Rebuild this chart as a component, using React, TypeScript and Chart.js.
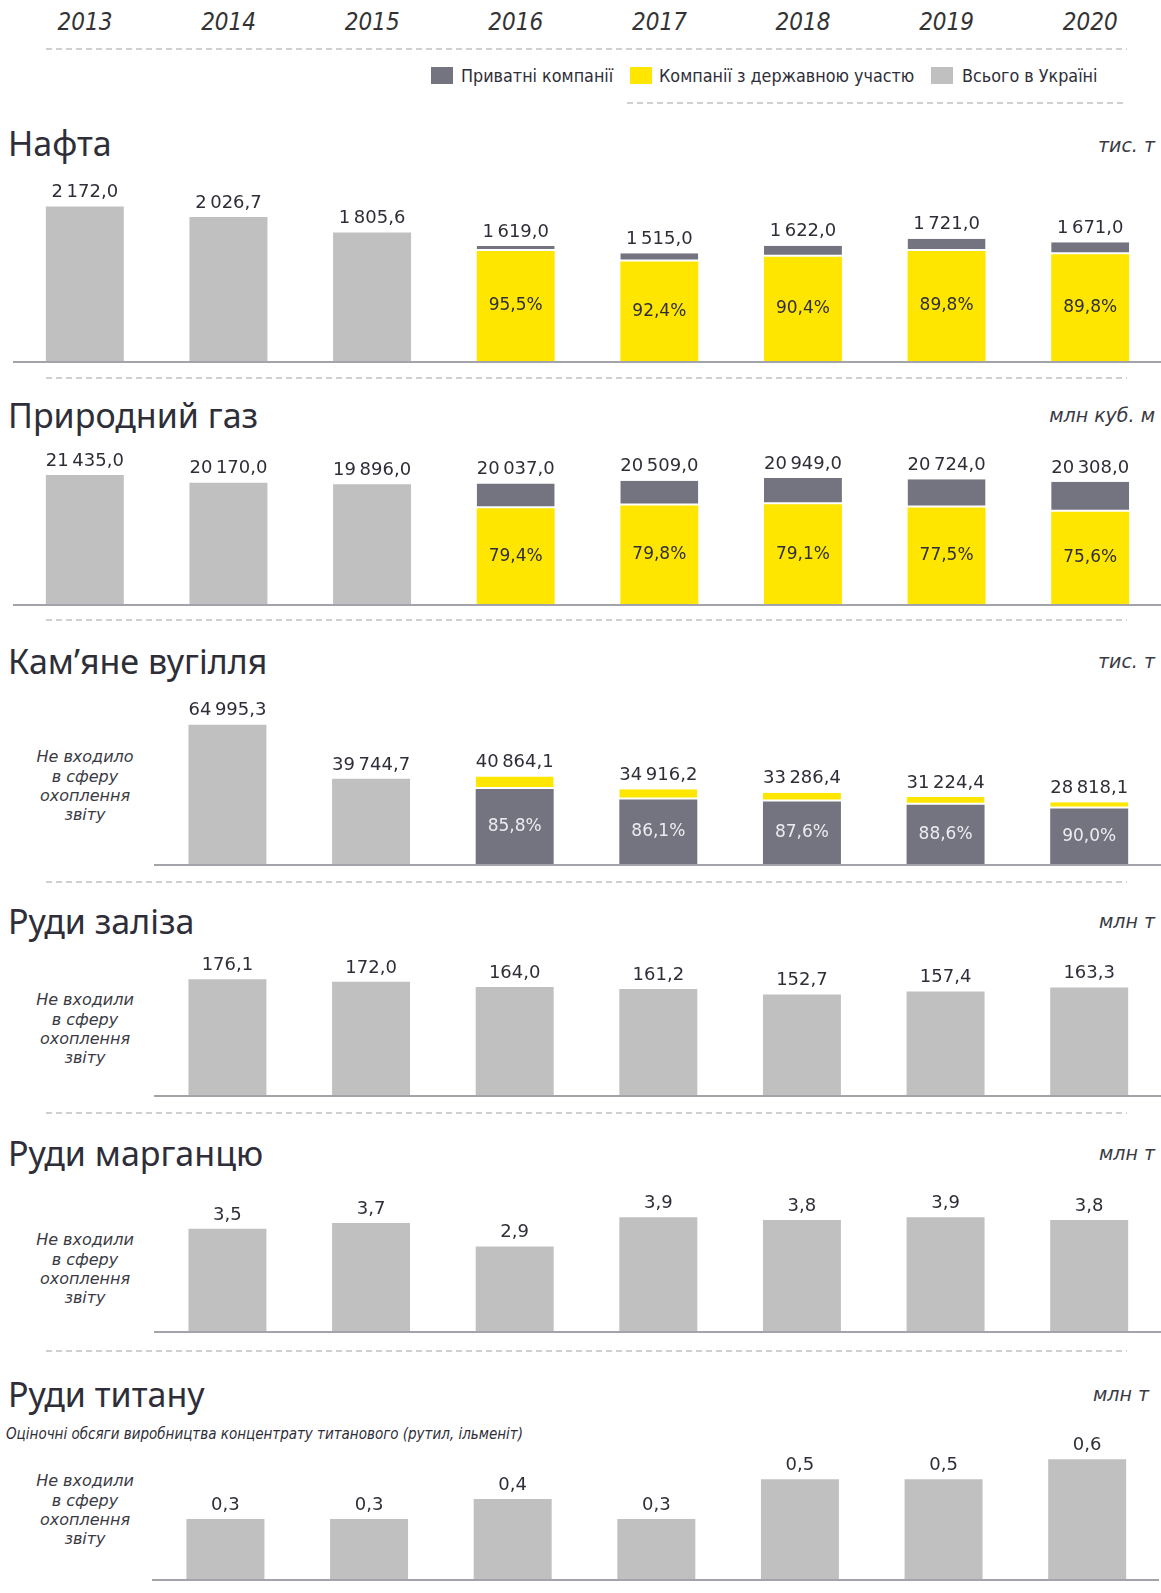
import React, { useEffect, useRef } from 'react';
import { Chart, registerables } from 'chart.js';

Chart.register(...registerables);

// ---------- DATA ----------
const YEARS = ['2013', '2014', '2015', '2016', '2017', '2018', '2019', '2020'];

const OIL_TOTAL = [2172.0, 2026.7, 1805.6, 1619.0, 1515.0, 1622.0, 1721.0, 1671.0];
const OIL_STATE_SHARE = [null, null, null, 95.5, 92.4, 90.4, 89.8, 89.8];

const GAS_TOTAL = [21435.0, 20170.0, 19896.0, 20037.0, 20509.0, 20949.0, 20724.0, 20308.0];
const GAS_STATE_SHARE = [null, null, null, 79.4, 79.8, 79.1, 77.5, 75.6];

const COAL_TOTAL = [null, 64995.3, 39744.7, 40864.1, 34916.2, 33286.4, 31224.4, 28818.1];
const COAL_PRIVATE_SHARE = [null, null, null, 85.8, 86.1, 87.6, 88.6, 90.0];

const IRON_TOTAL = [null, 176.1, 172.0, 164.0, 161.2, 152.7, 157.4, 163.3];
const MANGANESE_TOTAL = [null, 3.5, 3.7, 2.9, 3.9, 3.8, 3.9, 3.8];
const TITANIUM_TOTAL = [null, 0.3, 0.3, 0.4, 0.3, 0.5, 0.5, 0.6];

const LEGEND_LABELS = ['Приватні компанії', 'Компанії з державною участю', 'Всього в Україні'];

// ---------- STYLE ----------
const C_PRIVATE = '#747480';
const C_STATE = '#ffe600';
const C_TOTAL = '#c0c0c0';
const C_TEXT = '#2e2e38';
const NUM_FONT = '"DejaVu Sans", Verdana, sans-serif';
const TITLE_FONT = '"Noto Sans", "Open Sans", sans-serif';
const ITAL_FONT = '"DejaVu Sans", Verdana, sans-serif';
const COND_FONT = '"DejaVu Sans Condensed", "Liberation Sans Narrow", "DejaVu Sans", sans-serif';

function fmt(v: number, d: number) {
  const s = v.toFixed(d);
  const [ip, dp] = s.split('.');
  const withSp = ip.replace(/\B(?=(\d{3})+(?!\d))/g, '\u2009');
  return dp !== undefined ? withSp + ',' + dp : withSp;
}

const labelPlugin = {
  id: 'valLabels',
  afterDatasetsDraw(chart: any, _args: any, opts: any) {
    const { ctx, chartArea } = chart;
    const xs = chart.scales.x;
    const ys = chart.scales.y;
    ctx.save();
    // baseline
    ctx.strokeStyle = '#a3a3aa';
    ctx.lineWidth = 2;
    ctx.beginPath();
    ctx.moveTo(opts.lineStart, chartArea.bottom + 1);
    ctx.lineTo(chart.width, chartArea.bottom + 1);
    ctx.stroke();

    const totals: (number | null)[] = opts.totals;
    const shares: (number | null)[] | null = opts.shares;
    totals.forEach((t, i) => {
      if (t == null) return;
      const x = xs.getPixelForValue(i);
      const yTop = ys.getPixelForValue(t);
      ctx.font = `18px ${NUM_FONT}`;
      ctx.fillStyle = C_TEXT;
      ctx.textAlign = 'center';
      ctx.textBaseline = 'middle';
      ctx.fillText(fmt(t, 1), x, yTop - 14);
      if (shares && shares[i] != null) {
        const b = (t * (shares[i] as number)) / 100;
        const yc = (ys.getPixelForValue(0) + ys.getPixelForValue(b)) / 2;
        ctx.font = `17px ${NUM_FONT}`;
        ctx.fillStyle = opts.pctColor;
        ctx.fillText(fmt(shares[i] as number, 1) + '%', x, yc);
      }
    });
    ctx.restore();
  },
};

type PanelProps = {
  totals: (number | null)[];
  shares?: (number | null)[] | null;
  bottomColor?: string;
  topColor?: string;
  pctColor?: string;
  left: number;
  top: number;
  baseline: number;
  ymax: number;
  lineStart: number;
};

function BarPanel(p: PanelProps) {
  const ref = useRef<HTMLCanvasElement>(null);
  const W = 1149;
  const H = p.baseline - p.top + 4;
  useEffect(() => {
    if (!ref.current) return;
    const shares = p.shares || null;
    const datasets: any[] = [
      {
        label: 'total',
        data: p.totals.map((v, i) => (shares && shares[i] != null ? null : v)),
        backgroundColor: C_TOTAL,
        borderWidth: 0,
      },
    ];
    if (shares) {
      const bottom = p.totals.map((v, i) => (shares[i] != null && v != null ? (v * (shares[i] as number)) / 100 : null));
      const topv = p.totals.map((v, i) => (bottom[i] != null && v != null ? v - (bottom[i] as number) : null));
      datasets.push({
        label: 'bottom',
        data: bottom,
        backgroundColor: p.bottomColor,
        borderWidth: 0,
      });
      datasets.push({
        label: 'top',
        data: topv,
        backgroundColor: p.topColor,
        borderColor: '#ffffff',
        borderWidth: { top: 0, left: 0, right: 0, bottom: 2 },
        borderSkipped: false,
      });
    }
    const chart = new Chart(ref.current, {
      type: 'bar',
      data: { labels: YEARS, datasets },
      options: {
        animation: false,
        responsive: false,
        maintainAspectRatio: false,
        layout: { padding: { top: 0, bottom: 4, left: 0, right: 0 } },
        datasets: { bar: { categoryPercentage: 1, barPercentage: 0.543 } },
        scales: {
          x: { display: false, stacked: true },
          y: { display: false, stacked: true, min: 0, max: p.ymax },
        },
        plugins: {
          legend: { display: false },
          tooltip: { enabled: false },
          valLabels: {
            totals: p.totals,
            shares,
            pctColor: p.pctColor || C_TEXT,
            lineStart: p.lineStart - p.left,
          },
        } as any,
      },
      plugins: [labelPlugin],
    });
    return () => chart.destroy();
  }, []);
  return (
    <canvas
      ref={ref}
      width={W}
      height={H}
      style={{ position: 'absolute', left: p.left, top: p.top, width: W, height: H }}
    />
  );
}

function Dash({ x1, x2, y }: { x1: number; x2: number; y: number }) {
  return (
    <div
      style={{
        position: 'absolute',
        left: x1,
        top: y - 1,
        width: x2 - x1,
        height: 2,
        backgroundImage: 'repeating-linear-gradient(to right, #cfcfd4 0px, #cfcfd4 6px, transparent 6px, transparent 10px)',
      }}
    />
  );
}

function Title({ text, y }: { text: string; y: number }) {
  return (
    <div
      style={{
        position: 'absolute',
        left: 8,
        top: y - 23,
        fontFamily: TITLE_FONT,
        fontSize: 34,
        lineHeight: '46px',
        color: C_TEXT,
        whiteSpace: 'nowrap',
      }}
    >
      {text}
    </div>
  );
}

function Unit({ text, y, right = 6 }: { text: string; y: number; right?: number }) {
  return (
    <div
      style={{
        position: 'absolute',
        right,
        top: y - 12,
        fontFamily: ITAL_FONT,
        fontStyle: 'italic',
        fontSize: 19,
        lineHeight: '24px',
        color: '#3a3a44',
        whiteSpace: 'nowrap',
      }}
    >
      {text}
    </div>
  );
}

function Note({ first, y }: { first: string; y: number }) {
  return (
    <div
      style={{
        position: 'absolute',
        left: 15,
        width: 140,
        top: y - 9.6,
        textAlign: 'center',
        fontFamily: ITAL_FONT,
        fontStyle: 'italic',
        fontSize: 16,
        lineHeight: '19.3px',
        color: '#3a3a44',
      }}
    >
      {first}
      <br />в сферу
      <br />охоплення
      <br />звіту
    </div>
  );
}

const YEAR_X0 = 85;
const YEAR_STEP = 143.6;

export default function App() {
  const legendItems = [
    { color: C_PRIVATE, sq: 431, tx: 461, label: LEGEND_LABELS[0] },
    { color: C_STATE, sq: 630, tx: 659, label: LEGEND_LABELS[1] },
    { color: C_TOTAL, sq: 931, tx: 962, label: LEGEND_LABELS[2] },
  ];
  return (
    <div
      style={{
        position: 'absolute',
        left: 0,
        top: 0,
        width: 1161,
        height: 1593,
        background: '#ffffff',
        overflow: 'hidden',
      }}
    >
      {YEARS.map((yr, i) => (
        <div
          key={yr}
          style={{
            position: 'absolute',
            left: YEAR_X0 + YEAR_STEP * i - 50,
            width: 100,
            top: 8,
            textAlign: 'center',
            fontFamily: COND_FONT,
            fontStyle: 'italic',
            fontSize: 24,
            lineHeight: '28px',
            color: '#333333',
          }}
        >
          {yr}
        </div>
      ))}
      <Dash x1={46} x2={1127} y={49} />
      {legendItems.map((it) => (
        <React.Fragment key={it.label}>
          <div style={{ position: 'absolute', left: it.sq, top: 67, width: 22, height: 17, background: it.color }} />
          <div
            style={{
              position: 'absolute',
              left: it.tx,
              top: 65,
              fontFamily: COND_FONT,
              fontSize: 17.8,
              lineHeight: '22px',
              color: C_TEXT,
              whiteSpace: 'nowrap',
            }}
          >
            {it.label}
          </div>
        </React.Fragment>
      ))}
      <Dash x1={627} x2={1127} y={103} />

      {/* Нафта */}
      <Title text="Нафта" y={143} />
      <Unit text="тис. т" y={145} />
      <BarPanel
        totals={OIL_TOTAL}
        shares={OIL_STATE_SHARE}
        bottomColor={C_STATE}
        topColor={C_PRIVATE}
        pctColor={C_TEXT}
        left={13}
        top={175}
        baseline={361}
        ymax={2616}
        lineStart={12}
      />
      <Dash x1={46} x2={1127} y={378} />

      {/* Природний газ */}
      <Title text="Природний газ" y={415} />
      <Unit text="млн куб. м" y={415} />
      <BarPanel
        totals={GAS_TOTAL}
        shares={GAS_STATE_SHARE}
        bottomColor={C_STATE}
        topColor={C_PRIVATE}
        pctColor={C_TEXT}
        left={13}
        top={440}
        baseline={604}
        ymax={27270}
        lineStart={12}
      />
      <Dash x1={46} x2={1127} y={620} />

      {/* Кам'яне вугілля */}
      <Title text="Кам’яне вугілля" y={661} />
      <Unit text="тис. т" y={661} />
      <Note first="Не входило" y={757} />
      <BarPanel
        totals={COAL_TOTAL}
        shares={COAL_PRIVATE_SHARE}
        bottomColor={C_PRIVATE}
        topColor={C_STATE}
        pctColor="#ececf0"
        left={12}
        top={690}
        baseline={864}
        ymax={81232}
        lineStart={154}
      />
      <Dash x1={46} x2={1127} y={882} />

      {/* Руди заліза */}
      <Title text="Руди заліза" y={921} />
      <Unit text="млн т" y={921} />
      <Note first="Не входили" y={1000} />
      <BarPanel totals={IRON_TOTAL} left={12} top={945} baseline={1095} ymax={228} lineStart={154} />
      <Dash x1={46} x2={1127} y={1113} />

      {/* Руди марганцю */}
      <Title text="Руди марганцю" y={1153} />
      <Unit text="млн т" y={1153} />
      <Note first="Не входили" y={1240} />
      <BarPanel totals={MANGANESE_TOTAL} left={12} top={1180} baseline={1331} ymax={5.175} lineStart={154} />
      <Dash x1={46} x2={1127} y={1351} />

      {/* Руди титану */}
      <Title text="Руди титану" y={1394} />
      <Unit text="млн т" y={1394} right={12} />
      <div
        style={{
          position: 'absolute',
          left: 6,
          top: 1424,
          fontFamily: COND_FONT,
          fontStyle: 'italic',
          fontSize: 15,
          lineHeight: '20px',
          color: C_TEXT,
          whiteSpace: 'nowrap',
        }}
      >
        Оціночні обсяги виробництва концентрату титанового (рутил, ільменіт)
      </div>
      <Note first="Не входили" y={1481} />
      <BarPanel totals={TITANIUM_TOTAL} left={10} top={1420} baseline={1579} ymax={0.796} lineStart={152} />
    </div>
  );
}
